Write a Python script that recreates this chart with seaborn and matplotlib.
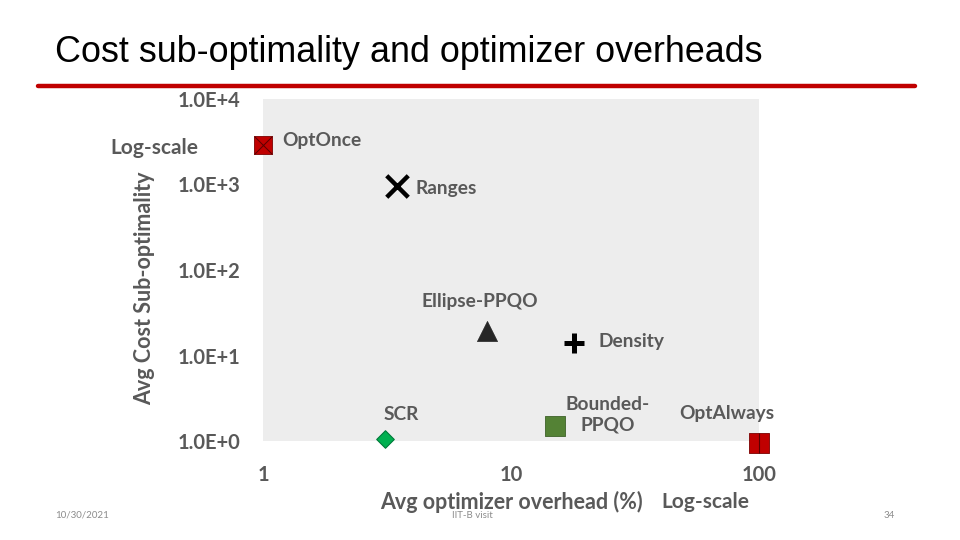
import matplotlib
matplotlib.use("Agg")
import matplotlib.pyplot as plt
import seaborn as sns

# values (log-log)
methods = ["OptOnce", "Ranges", "Ellipse-PPQO", "Density", "SCR", "Bounded-\nPPQO", "OptAlways"]
overhead = [1.0, 3.47, 8.0, 17.9, 3.1, 15.0, 100.0]      # Avg optimizer overhead (%)
subopt = [2900, 960, 19.4, 14.0, 1.05, 1.5, 0.95]        # Avg cost sub-optimality

yticks = [1, 10, 100, 1000, 10000]
ytick_labels = ["1.0E+0", "1.0E+1", "1.0E+2", "1.0E+3", "1.0E+4"]
xticks = [1, 10, 100]
xtick_labels = ["1", "10", "100"]

sns.set_style("white")
plt.rcParams['font.family'] = ['Lato', 'DejaVu Sans']

grey = "#595959"
red = "#C00000"

# marker styles: (marker, size, face, edge, linewidth)
styles = [
    ("s", 170, red, "#7a0000", 0.6),
    ("x", 240, "black", "black", 3.2),
    ("^", 210, "#262626", "#262626", 0.5),
    ("+", 210, "black", "black", 3.6),
    ("D", 80, "#00B050", "#007a3a", 0.8),
    ("s", 220, "#548235", "#3d6128", 0.6),
    ("s", 200, red, "#7a0000", 0.6),
]
# label offsets in points relative to each marker
offsets = [(14, 3, "left"), (13, -2, "left"), (-5, 21, "center"), (18, 1, "left"),
           (12, 18, "center"), (38, 8, "center"), (-23, 21, "center")]

fig = plt.figure(figsize=(9.6, 5.4), dpi=100)
ax = fig.add_axes([263 / 960, 1 - 441 / 540, 496 / 960, 342 / 540])
ax.set_facecolor("#EDEDED")

for i, m in enumerate(methods):
    mk, s, fc, ec, lw = styles[i]
    if mk in ("x", "+"):
        sns.scatterplot(x=[overhead[i]], y=[subopt[i]], marker=mk, s=s, color=fc,
                        linewidth=lw, ax=ax, zorder=3, clip_on=False)
    else:
        sns.scatterplot(x=[overhead[i]], y=[subopt[i]], marker=mk, s=s, color=fc,
                        edgecolor=ec, linewidth=lw, ax=ax, zorder=3, clip_on=False)
    dx, dy, ha = offsets[i]
    ax.annotate(m, (overhead[i], subopt[i]), xytext=(dx, dy), textcoords="offset points",
                ha=ha, va="center", fontsize=13.8, fontweight="bold", color=grey,
                multialignment="center", linespacing=1.2, annotation_clip=False)

# OptOnce has a cross inside, OptAlways a vertical divider
ax.scatter([overhead[0]], [subopt[0]], marker="x", s=170, color="#5a0000", linewidth=0.7, zorder=4, clip_on=False)
ax.scatter([overhead[6]], [subopt[6]], marker="|", s=200, color="#5a0000", linewidth=0.8, zorder=4, clip_on=False)

ax.set_xscale("log")
ax.set_yscale("log")
ax.set_xlim(1, 100)
ax.set_ylim(1, 10000)
ax.set_xticks(xticks)
ax.set_xticklabels(xtick_labels)
ax.set_yticks(yticks)
ax.set_yticklabels(ytick_labels)
ax.minorticks_off()
ax.tick_params(length=0, labelsize=14.5, labelcolor=grey, pad=16)
ax.tick_params(axis="x", pad=17)
for t in ax.get_xticklabels() + ax.get_yticklabels():
    t.set_fontweight("bold")
for sp in ax.spines.values():
    sp.set_visible(False)

ax.set_ylabel("Avg Cost Sub-optimality", fontsize=15.5, fontweight="bold", color=grey)
ax.yaxis.set_label_coords(-0.218, 0.447)
ax.set_xlabel("Avg optimizer overhead (%)", fontsize=15.5, fontweight="bold", color=grey)
ax.xaxis.set_label_coords(0.5, -0.145)
ax.text(-0.218, 0.857, "Log-scale", transform=ax.transAxes, ha="center", va="center",
        fontsize=15, fontweight="bold", color=grey)
ax.text(0.891, -0.178, "Log-scale", transform=ax.transAxes, ha="center", va="center",
        fontsize=15, fontweight="bold", color=grey)

# slide title, rule and footer
fig.text(55 / 960, 1 - 53 / 540, "Cost sub-optimality and optimizer overheads",
         family=["Liberation Sans"], fontsize=25.8, color="black",
         ha="left", va="center")
fig.add_artist(plt.Line2D([38 / 960, 915 / 960], [1 - 86 / 540] * 2, color="#C00000", linewidth=3.2))
fig.text(82 / 960, 1 - 515 / 540, "10/30/2021", fontsize=7, color="#8c8c8c", ha="center", va="center")
fig.text(472 / 960, 1 - 515 / 540, "IIT-B visit", fontsize=7, color="#8c8c8c", ha="center", va="center")
fig.text(889 / 960, 1 - 515 / 540, "34", fontsize=7, color="#8c8c8c", ha="center", va="center")

fig.savefig("out.png", dpi=100)
